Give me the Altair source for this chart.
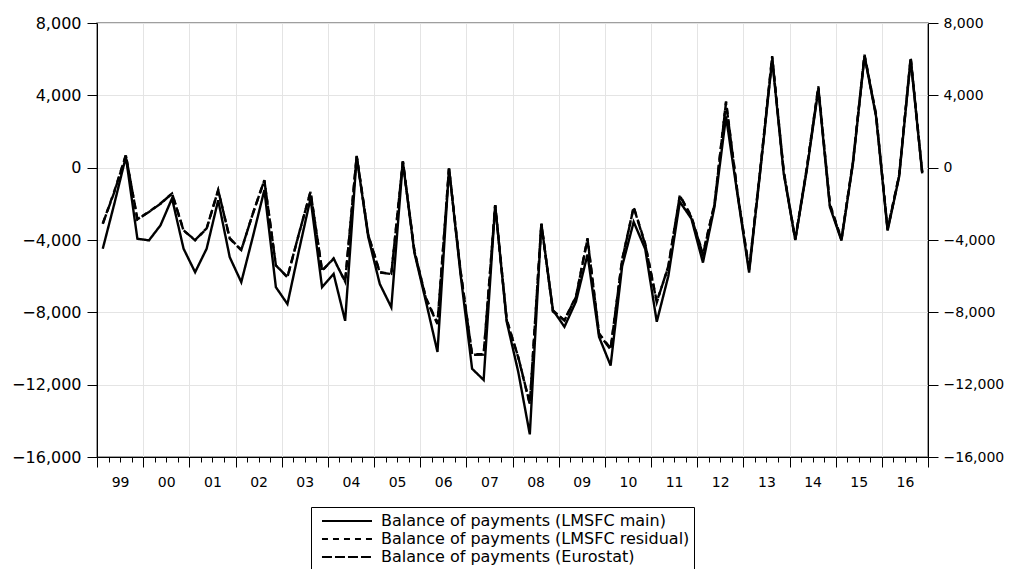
import altair as alt
import pandas as pd

series_names = [
    "Balance of payments (LMSFC main)",
    "Balance of payments (LMSFC residual)",
    "Balance of payments (Eurostat)",
]

# quarterly values 1999Q1 .. 2016Q4
main = [
    -4480, -2000, 600, -3930, -4020, -3190, -1700, -4480,
    -5780, -4480, -1800, -4950, -6330, -3830, -1240, -6610,
    -7540, -4570, -1700, -6610, -5870, -8470, 610, -3830,
    -6430, -7720, 330, -4700, -7400, -10190, -40, -5900,
    -11120, -11740, -2070, -8520, -11300, -14750, -3100, -7870,
    -8800, -7400, -4800, -9360, -10940, -5450, -3000, -4500,
    -8520, -6000, -1890, -2820, -5250, -2170, 2830, -1520,
    -5800, 0, 5980, -320, -4000, -130, 4320, -2170,
    -4030, 240, 6170, 2830, -3480, -500, 5980, -320,
]
residual = [
    -3090, -1300, 700, -2870, -2440, -1980, -1430, -3460,
    -4020, -3370, -1240, -3930, -4570, -2540, -690, -5410,
    -6060, -3650, -1330, -5690, -5040, -6290, 650, -3700,
    -5780, -5870, 350, -4600, -7200, -8610, -40, -5700,
    -10320, -10320, -2070, -8400, -10500, -13080, -3100, -7960,
    -8430, -7120, -3900, -9170, -10000, -5080, -2170, -4200,
    -7400, -5500, -1520, -2700, -4760, -2000, 3670, -1400,
    -5600, 100, 6170, -200, -3950, 0, 4500, -2000,
    -3950, 350, 6250, 2950, -3400, -400, 6100, -250,
]
eurostat = [
    -3100, -1350, 680, -2850, -2450, -2000, -1420, -3480,
    -4000, -3350, -1250, -3900, -4550, -2550, -700, -5400,
    -6050, -3640, -1340, -5700, -5020, -6300, 640, -3720,
    -5800, -5880, 340, -4620, -7250, -8650, -50, -5750,
    -10350, -10340, -2100, -8450, -10480, -13050, -3120, -7900,
    -8450, -7150, -3950, -9200, -10050, -5100, -2200, -4250,
    -7450, -5450, -1550, -2750, -4800, -2050, 3600, -1450,
    -5650, 60, 6100, -250, -3980, -50, 4420, -2080,
    -3980, 300, 6200, 2900, -3420, -450, 6050, -280,
]

year_labels = ["99", "00", "01", "02", "03", "04", "05", "06", "07",
               "08", "09", "10", "11", "12", "13", "14", "15", "16"]
y_ticks = [-16000, -12000, -8000, -4000, 0, 4000, 8000]

rows = []
for name, vals in zip(series_names, [main, residual, eurostat]):
    for i, v in enumerate(vals):
        rows.append({"t": i + 0.5, "value": v, "series": name})
df = pd.DataFrame(rows)

FONT = "DejaVu Sans"
label_arr = "[" + ",".join("'%s'" % s for s in year_labels) + "]"
label_expr = "datum.value % 4 == 2 ? " + label_arr + "[floor(datum.value / 4)] : ''"

x_axis = alt.Axis(
    values=list(range(0, 73)),
    labelExpr=label_expr,
    tickSize={"condition": {"test": "datum.value % 4 == 0", "value": 10}, "value": 5},
    gridOpacity={"condition": {"test": "datum.value % 4 == 0", "value": 1}, "value": 0},
    grid=True,
    gridColor="#e4e4e4",
    tickColor="black",
    domainColor="black",
    labelFont=FONT,
    labelFontSize=14,
    labelColor="black",
    labelPadding=13,
    labelOverlap=False,
    labelFlush=False,
    title=None,
)

x_enc = alt.X("t:Q", scale=alt.Scale(domain=[0, 72], nice=False, zero=False), axis=x_axis)

y_scale = alt.Scale(domain=[-16000, 8000], nice=False, zero=False)

def y_axis(orient, grid, size, pad):
    return alt.Axis(
        orient=orient,
        values=y_ticks,
        format=",.0f",
        grid=grid,
        gridColor="#e4e4e4",
        tickSize=10,
        tickColor="black",
        domainColor="black",
        labelFont=FONT,
        labelFontSize=size,
        labelColor="black",
        labelPadding=pad,
        title=None,
    )

lines = alt.Chart(df).mark_line(color="black", strokeWidth=2.4).encode(
    x=x_enc,
    y=alt.Y("value:Q", scale=y_scale, axis=y_axis("left", True, 16, 6)),
    strokeDash=alt.StrokeDash(
        "series:N",
        scale=alt.Scale(domain=series_names, range=[[1, 0], [6, 5], [10, 3]]),
        sort=series_names,
        legend=alt.Legend(
            title=None,
            orient="none",
            legendX=214,
            legendY=484,
            symbolType="M-2.78,0H2.78",
            symbolSize=324,
            symbolStrokeWidth=2,
            symbolStrokeColor="black",
            symbolFillColor="transparent",
            symbolOffset=22,
            labelOffset=24,
            labelFont=FONT,
            labelFontSize=16,
            labelColor="black",
            labelLimit=500,
            rowPadding=0,
            padding=4,
            strokeColor="black",
            fillColor="white",
        ),
    ),
    detail="series:N",
)

right = alt.Chart(df).mark_line(opacity=0).encode(
    x=x_enc,
    y=alt.Y("value:Q", scale=y_scale, axis=y_axis("right", False, 14, 5)),
    detail="series:N",
)

chart = alt.layer(lines, right).resolve_axis(y="independent").resolve_scale(y="shared").properties(
    width=831,
    height=434,
    autosize=alt.AutoSizeParams(type="none"),
    padding={"left": 89, "top": 15, "right": 76, "bottom": 112},
).configure_view(stroke="#808080", strokeWidth=1.5)

chart.save("out.html", embed_options={"renderer": "svg", "actions": False})
